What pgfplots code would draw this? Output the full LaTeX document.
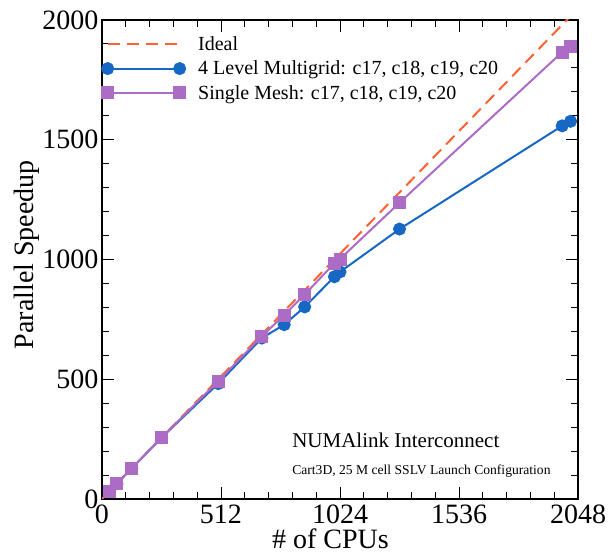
\documentclass[border=0pt]{standalone}
\usepackage{fontspec}
\setmainfont{Liberation Serif}
\usepackage{pgfplots}
\pgfplotsset{compat=1.18}
\definecolor{mgblue}{RGB}{22,104,196}
\definecolor{smpurple}{RGB}{172,108,198}
\definecolor{idealor}{RGB}{255,98,50}
\begin{document}
\begin{tikzpicture}
\begin{axis}[
  scale only axis,
  width=476pt, height=479pt,
  xmin=0, xmax=2048, ymin=0, ymax=2000,
  xtick={0,512,1024,1536,2048},
  ytick={0,500,1000,1500,2000},
  minor x tick num=4, minor y tick num=4,
  tick align=inside,
  major tick length=12pt, minor tick length=7pt,
  every tick/.style={black, line width=1pt},
  axis line style={line width=1.5pt},
  /pgf/number format/assume math mode=true,
  /pgf/number format/1000 sep={},
  tick label style={font=\fontsize{28}{30}\selectfont},
  xticklabel style={yshift=-2pt},
  xlabel={\# of CPUs},
  ylabel={Parallel Speedup},
  xlabel style={font=\fontsize{28}{30}\selectfont, at={(axis description cs:0.48,-0.083)}, anchor=center},
  ylabel style={font=\fontsize{28}{30}\selectfont, at={(axis description cs:-0.158,0.51)}, anchor=center},
  clip mode=individual,
  legend cell align=left,
  legend style={draw=none, fill=none, at={(axis description cs:0.0,0.968)}, anchor=north west,
    font=\fontsize{20}{22}\selectfont, row sep=7pt, inner sep=0pt, nodes={inner sep=1pt},
    /tikz/every odd column/.append style={column sep=12pt}},
  legend image code/.code={\draw[#1] plot coordinates {(0pt,0pt) (72pt,0pt)};},
]
\coordinate (bl) at (rel axis cs:0,0);
\coordinate (tr) at (rel axis cs:1,1);
\addplot[idealor, line width=2pt, dash pattern=on 12pt off 7pt] coordinates {(0,0) (2048,2048)};
\addlegendentry{Ideal}
\addplot[mgblue, line width=2pt, mark=*, mark size=5.5pt, mark options={solid, fill=mgblue}] coordinates {
(32,32) (64,64) (128,128) (256,256) (500,482) (688,672) (784,728) (872,802) (1000,928) (1024,948) (1280,1127) (1980,1558) (2016,1577)
};
\addlegendentry{4 Level Multigrid: c17, c18, c19, c20}
\addplot[smpurple, line width=2pt, mark=square*, mark size=5.5pt, mark options={solid, fill=smpurple}] coordinates {
(32,32) (64,64) (128,128) (256,256) (500,492) (688,680) (784,768) (872,854) (1000,984) (1024,1002) (1280,1237) (1980,1866) (2016,1891)
};
\addlegendentry{Single Mesh: c17, c18, c19, c20}
\node[anchor=base west, font=\fontsize{21}{23}\selectfont, inner sep=0pt] at (axis cs:818,213) {NUMAlink Interconnect};
\node[anchor=base west, font=\fontsize{13.6}{15}\selectfont, inner sep=0pt] at (axis cs:818,104) {Cart3D, 25 M cell SSLV Launch Configuration};
\end{axis}
\pgfresetboundingbox
\useasboundingbox ([shift={(-102pt,-54pt)}]bl) rectangle ([shift={(30pt,20pt)}]tr);
\end{tikzpicture}
\end{document}
